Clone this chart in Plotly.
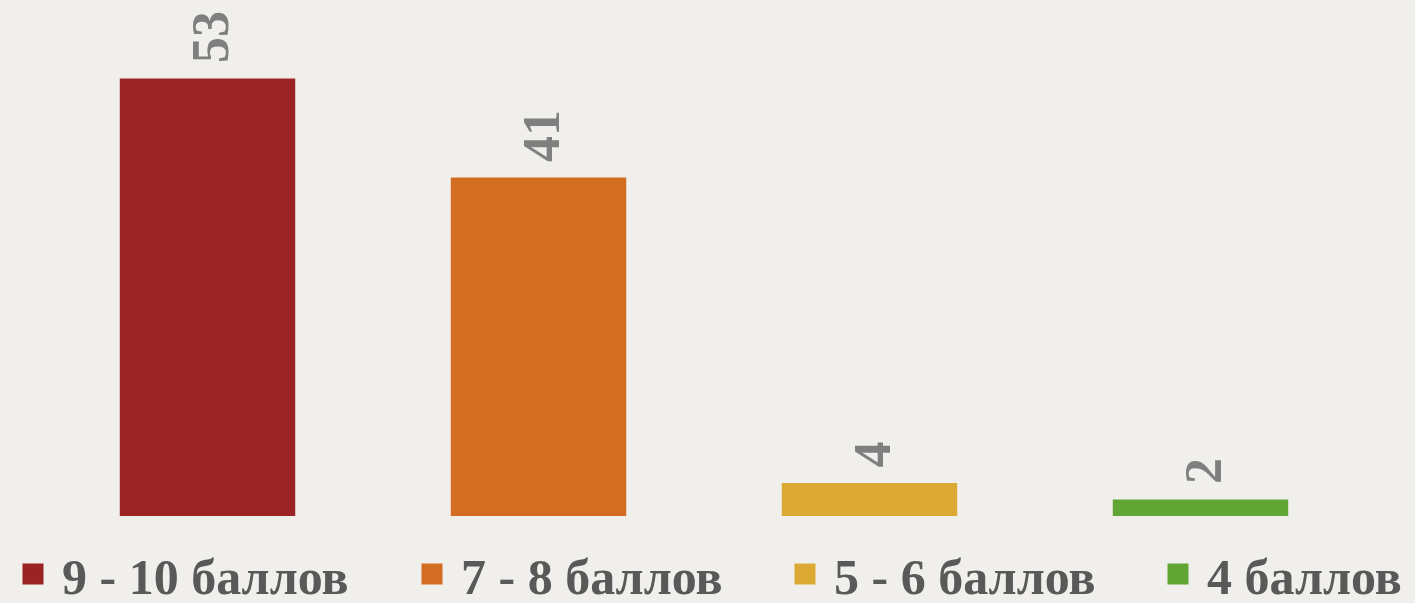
import plotly.graph_objects as go

categories = ["9 - 10 баллов", "7 - 8 баллов", "5 - 6 баллов", "4 баллов"]
values = [53, 41, 4, 2]
colors = ["#9B2323", "#D36D22", "#DDA935", "#61A534"]
legend_x = [4, 403, 776, 1149]  # container px of legend entries

FONT = "Liberation Serif"

fig = go.Figure()
fig.add_trace(go.Bar(
    x=categories, y=values, marker=dict(color=colors, line=dict(width=0)),
    width=0.53, showlegend=False, hoverinfo="x+y",
))

for i, (cat, col) in enumerate(zip(categories, colors)):
    lname = "legend" if i == 0 else f"legend{i+1}"
    fig.add_trace(go.Scatter(
        x=[None], y=[None], mode="markers", name=cat, legend=lname,
        marker=dict(symbol="square", size=16, color=col, line=dict(color=col, width=5)),
    ))

annotations = []
for cat, v in zip(categories, values):
    annotations.append(dict(
        x=cat, y=v, xref="x", yref="y", text=f"<b>{v}</b>", showarrow=False,
        textangle=-90, yanchor="bottom", xanchor="center", yshift=13, xshift=3,
        font=dict(family=FONT, size=52, color="#7F7F7F"),
    ))

layout_legends = {}
for i, lx in enumerate(legend_x):
    lname = "legend" if i == 0 else f"legend{i+1}"
    layout_legends[lname] = dict(
        orientation="h", xref="container", x=lx / 1415, xanchor="left",
        yref="paper", y=-0.188, yanchor="bottom",
        bgcolor="rgba(0,0,0,0)", borderwidth=0, itemwidth=48,
        font=dict(family=FONT, size=50, color="#595959", weight="bold"),
        itemclick=False, itemdoubleclick=False,
    )

fig.update_layout(
    width=1415, height=603,
    margin=dict(l=42, r=49, t=0, b=87, autoexpand=False),
    paper_bgcolor="#F0EFEC", plot_bgcolor="rgba(0,0,0,0)",
    xaxis=dict(visible=False, categoryorder="array", categoryarray=categories),
    yaxis=dict(visible=False, range=[0, 62.5]),
    annotations=annotations,
    **layout_legends,
)

fig.write_html(
    "out.html",
    config={"displayModeBar": False},
    post_script="document.body.style.margin='0';",
)
